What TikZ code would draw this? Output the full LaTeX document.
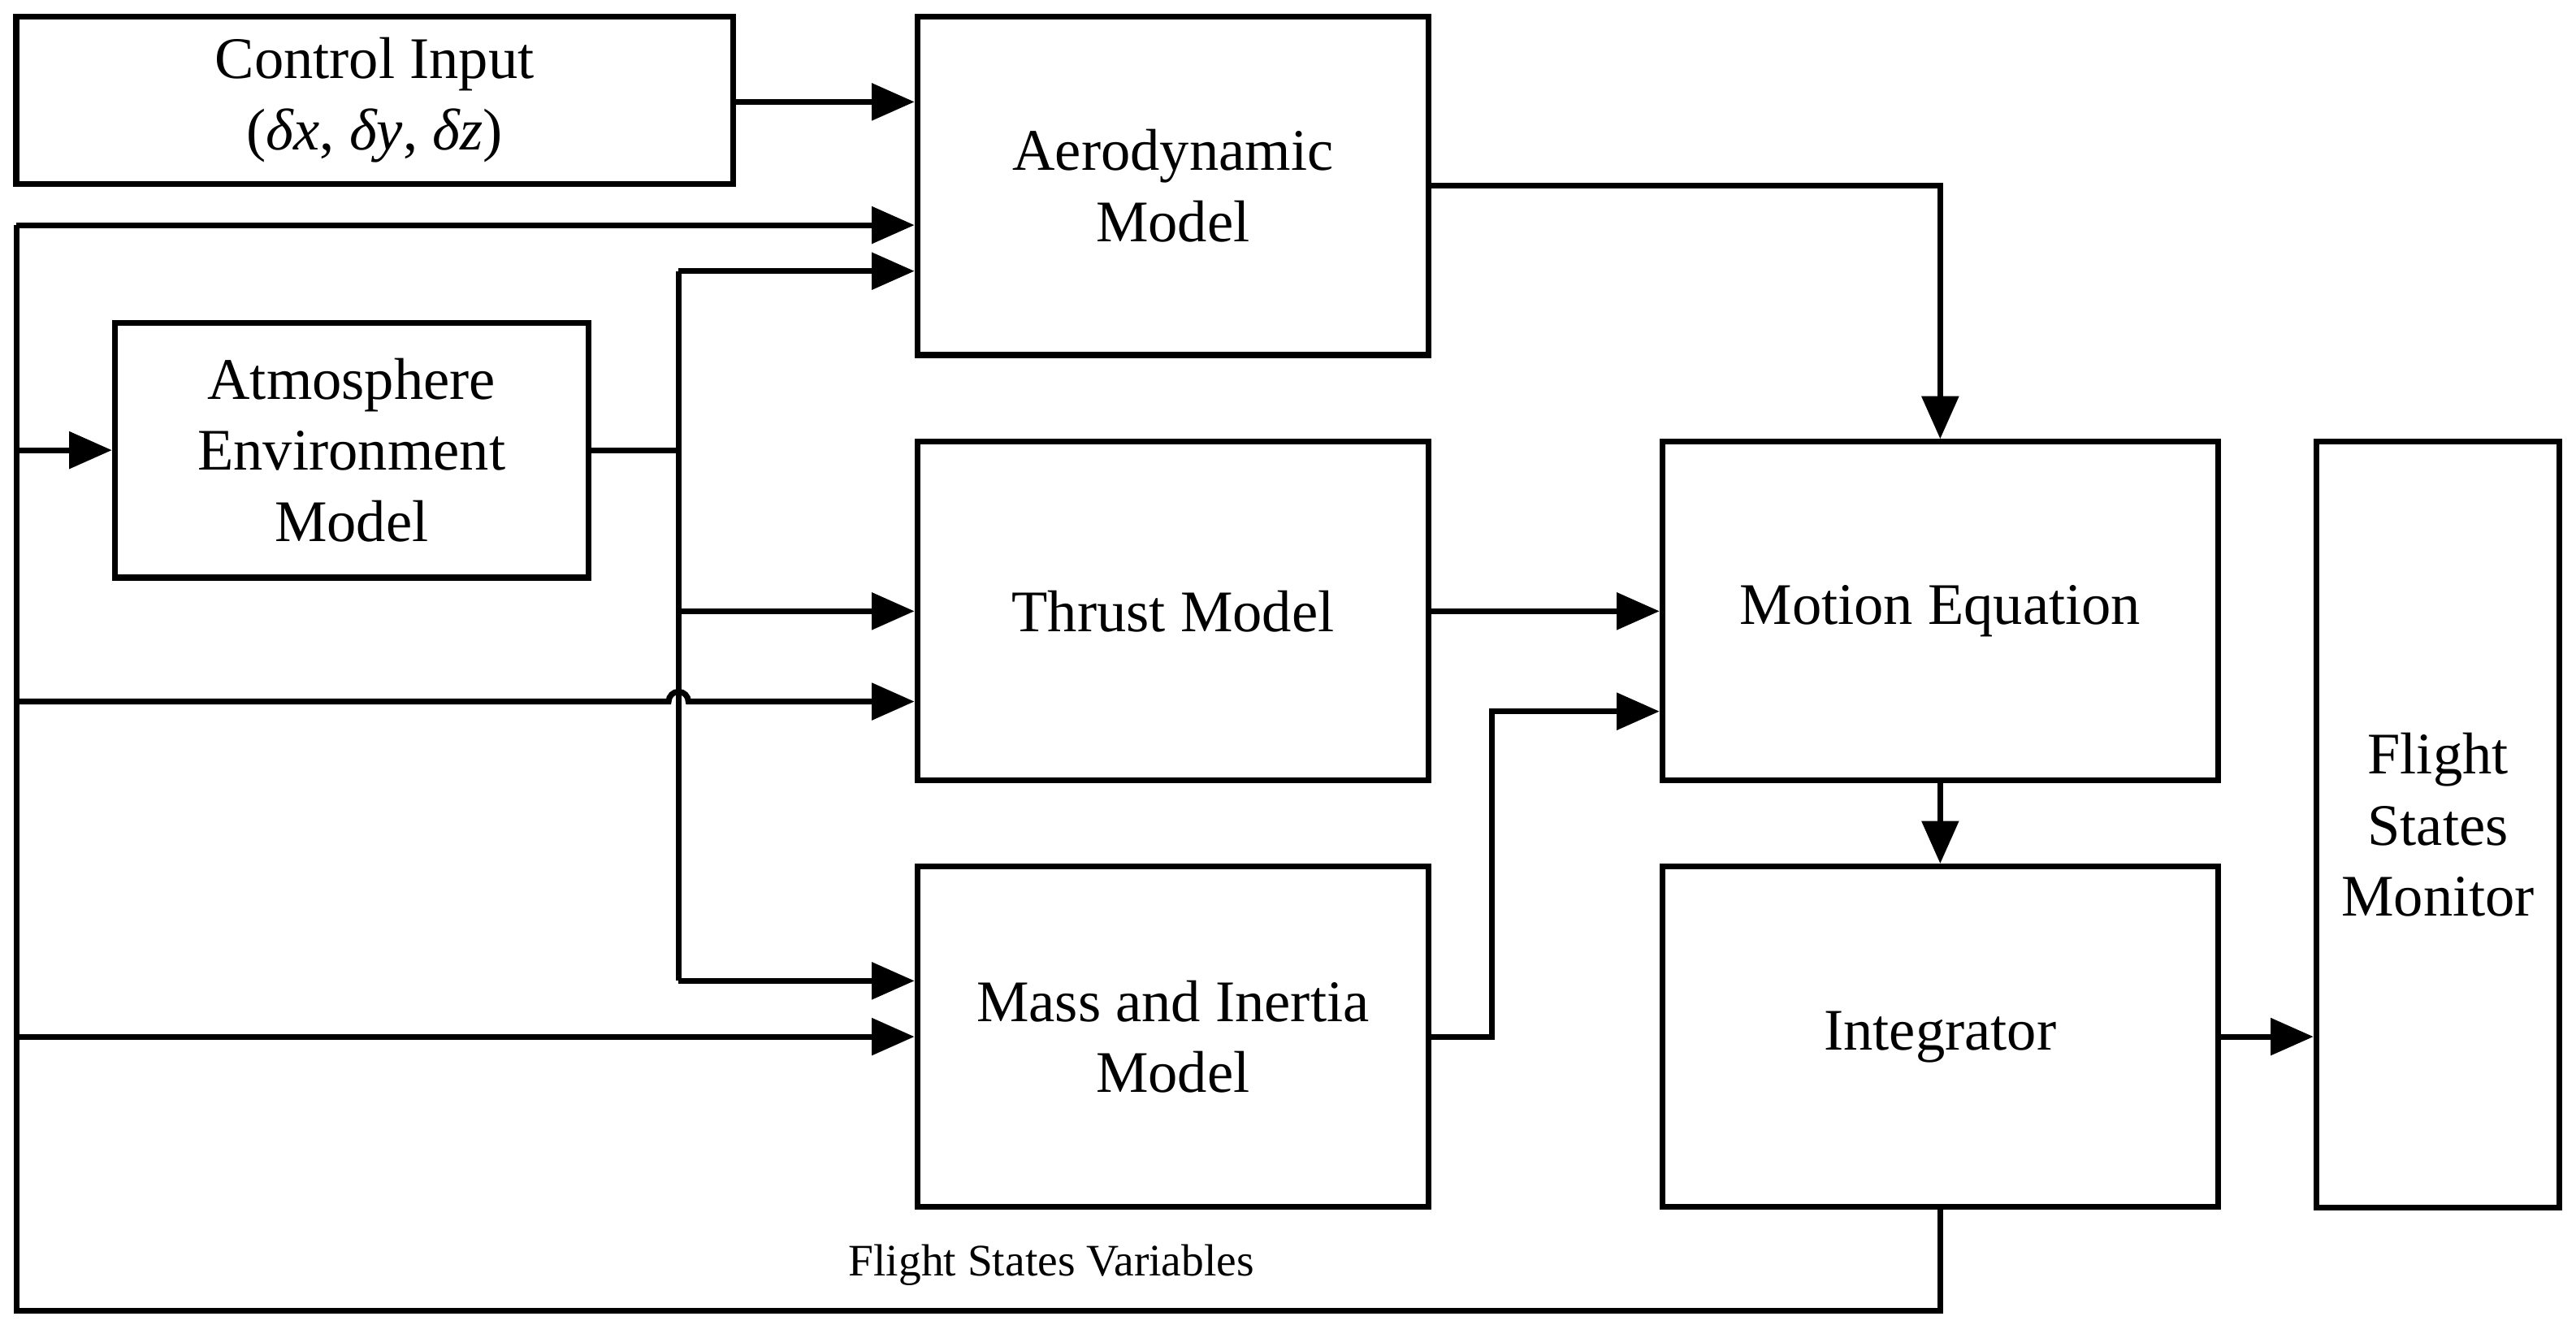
\documentclass[tikz,border=0pt]{standalone}
\usepackage{fontspec}
\setmainfont{Liberation Serif}
\usetikzlibrary{arrows.meta, positioning, calc}

\begin{document}
\begin{tikzpicture}[
		x=0.01cm, y=-0.01cm,
		block/.style={draw, line width=1pt, inner sep=0pt, align=center, font=\fontsize{10.2}{12.3}\selectfont},
		arr/.style={-{Triangle[length=2.6mm,width=2.2mm]}, line width=1pt},
		line/.style={line width=1pt}
		]
		\useasboundingbox (0,0) rectangle (1568,814);
		
		% blocks
		\node[block, minimum width=4.36cm, minimum height=1.02cm] (ctrl) at (228,61) {Control Input\\(\textit{δx}, \textit{δy}, \textit{δz})};
		\node[block, minimum width=3.11cm, minimum height=2.06cm] (aero) at (714,113) {Aerodynamic\\Model};
		\node[block, minimum width=2.88cm, minimum height=1.55cm] (atmo) at (214,274) {Atmosphere\\Environment\\Model};
		\node[block, minimum width=3.11cm, minimum height=2.06cm] (thrust) at (714,372) {Thrust Model};
		\node[block, minimum width=3.11cm, minimum height=2.07cm] (mass) at (714,631) {Mass and Inertia\\Model};
		\node[block, minimum width=3.38cm, minimum height=2.06cm] (motion) at (1181,372) {Motion Equation};
		\node[block, minimum width=3.38cm, minimum height=2.07cm] (integ) at (1181,631) {Integrator};
		\node[block, minimum width=1.48cm, minimum height=4.66cm] (monitor) at (1484,502) {Flight\\States\\Monitor};
		
		% feedback loop
		\coordinate (fbR) at (1181,798);
		\coordinate (fbL) at (10,798);
		\coordinate (fbT) at (10,137);
		\draw[line] (integ.south) -- (fbR) -- (fbL) -- (fbT);
		\node[font=\fontsize{7.8}{9}\selectfont, anchor=south] (fblabel) at (640,795) {Flight States Variables};
		\draw[arr] (fbT) -- (aero.west |- fbT);
		\draw[arr] (10,274) -- (atmo.west);
		\draw[arr] (10,427) -- (407,427) arc[start angle=180, end angle=0, x radius=6, y radius=-6] -- (thrust.west |- 0,427);
		\draw[arr] (10,631) -- (mass.west |- 0,631);
		
		% atmosphere bus
		\coordinate (bus) at (413,274);
		\draw[line] (atmo.east) -- (bus);
		\draw[line] (413,165) -- (413,597);
		\draw[arr] (413,165) -- (aero.west |- 0,165);
		\draw[arr] (413,372) -- (thrust.west);
		\draw[arr] (413,597) -- (mass.west |- 0,597);
		
		% forward path
		\draw[arr] (ctrl.east |- 0,62) -- (aero.west |- 0,62);
		\draw[arr] (aero.east) -| (motion.north);
		\draw[arr] (thrust.east) -- (motion.west);
		\draw[arr] (mass.east) -- (908,631) -- (908,433) -- (motion.west |- 0,433);
		\draw[arr] (motion.south) -- (integ.north);
		\draw[arr] (integ.east) -- (monitor.west |- integ.east);
		
	\end{tikzpicture}
\end{document}
